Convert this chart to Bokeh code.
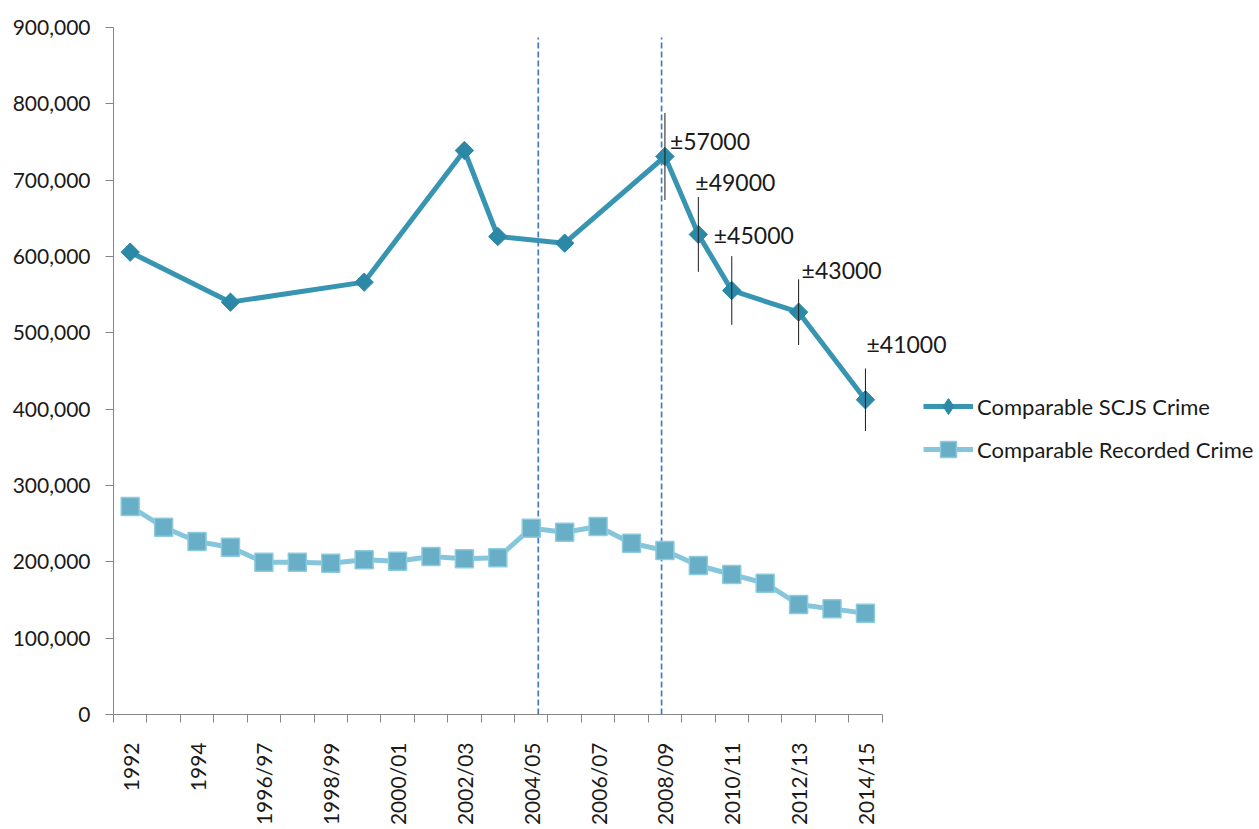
import numpy as np
from bokeh.plotting import figure
from bokeh.models import Range1d, FixedTicker, NumeralTickFormatter, Legend, LegendItem
from bokeh.core.properties import value
from bokeh.embed import file_html
from bokeh.resources import INLINE

# ---------------- data ----------------
periods = ["1992", "1993", "1994", "1995", "1996/97", "1997/98", "1998/99", "1999/00",
           "2000/01", "2001/02", "2002/03", "2003/04", "2004/05", "2005/06", "2006/07",
           "2007/08", "2008/09", "2009/10", "2010/11", "2011/12", "2012/13", "2013/14",
           "2014/15"]

recorded_crime = [272500, 245400, 226600, 219200, 199500, 199500, 198200, 202700,
                  200800, 207000, 204000, 205300, 244100, 238800, 246300, 224400,
                  214900, 195200, 183400, 172000, 144100, 138400, 132700]

scjs_periods = ["1992", "1995", "1999/00", "2002/03", "2003/04", "2005/06",
                "2008/09", "2009/10", "2010/11", "2012/13", "2014/15"]
scjs_crime = [605700, 540200, 566400, 738900, 626200, 617500,
              731000, 628900, 555500, 527100, 412300]

err_periods = ["2008/09", "2009/10", "2010/11", "2012/13", "2014/15"]
err_margin = [57000, 49000, 45000, 43000, 41000]

y_ticks = [0, 100000, 200000, 300000, 400000, 500000, 600000, 700000, 800000, 900000]

# vertical dashed dividers (category + shift within category), top value
divider_periods = ["2004/05", "2008/09"]
divider_shift = [0.21, -0.10]
divider_top = 887000

# ---------------- style / layout ----------------
FONT = "Lato"
AXIS_COL = "#868686"
TEXT_COL = "#1a1a1a"
SCJS_LINE = "#3795B2"
SCJS_MARK = "#2B89A7"
REC_LINE = "#86C6DA"
REC_FILL = "#68AEC7"
REC_EDGE = "#8CCBDE"
DIV_COL = "#4A7CC4"
label_dx = [5, -3, -18, 3, 1]
label_dy = [-16, -52, -55, -42, -56]

CAT_PX = 33.42          # pixel width of one category
FRAME_W = 1140          # frame extends under the legend; axis is bounded
FRAME_H = 687
n = len(periods)

p = figure(frame_width=FRAME_W, frame_height=FRAME_H,
           x_range=Range1d(-0.5, -0.5 + FRAME_W / CAT_PX), y_range=Range1d(0, 900000),
           output_backend="svg", toolbar_location=None,
           min_border_left=113, min_border_right=0, min_border_top=27,
           min_border_bottom=90)
p.outline_line_color = None
p.xgrid.grid_line_color = None
p.ygrid.grid_line_color = None
p.background_fill_color = "white"
p.border_fill_color = "white"

# x axis
xa = p.xaxis[0]
xa.bounds = (-0.5, n - 0.5)
xa.ticker = FixedTicker(ticks=list(range(0, n, 2)),
                        minor_ticks=[i - 0.5 for i in range(n + 1)])
xa.major_label_overrides = {i: periods[i] for i in range(0, n, 2)}
xa.major_tick_line_color = None
xa.major_tick_out = 0
xa.major_tick_in = 0
xa.minor_tick_line_color = AXIS_COL
xa.minor_tick_out = 8
xa.minor_tick_in = 0
xa.major_label_orientation = np.pi / 2
xa.major_label_standoff = 20
xa.major_label_text_font_size = "21px"

# y axis
ya = p.yaxis[0]
ya.ticker = FixedTicker(ticks=y_ticks)
ya.formatter = NumeralTickFormatter(format="0,0")
ya.major_tick_out = 8
ya.major_tick_in = 0
ya.minor_tick_line_color = None
ya.major_label_standoff = 15
ya.major_tick_line_color = AXIS_COL
ya.major_label_text_font_size = "21px"

for ax in (xa, ya):
    ax.axis_line_color = AXIS_COL
    ax.axis_line_width = 1
    ax.major_label_text_font = FONT
    ax.major_label_text_color = TEXT_COL

# dividers
div_x = [periods.index(c) + s for c, s in zip(divider_periods, divider_shift)]
p.segment(x0=div_x, y0=[0] * len(div_x), x1=div_x, y1=[divider_top] * len(div_x),
          line_color=DIV_COL, line_width=1.75, line_dash="6 3")

# recorded crime
rec_x = [periods.index(c) for c in periods]
rec_line = p.line(rec_x, recorded_crime, line_color=REC_LINE, line_width=5)
rec_pts = p.scatter(rec_x, recorded_crime, marker="square", size=18,
                    fill_color=REC_FILL, line_color=REC_EDGE, line_width=1.5)

# SCJS crime
scjs_x = [periods.index(c) for c in scjs_periods]
scjs_line = p.line(scjs_x, scjs_crime, line_color=SCJS_LINE, line_width=5)
scjs_pts = p.scatter(scjs_x, scjs_crime, marker="square", angle=np.pi / 4, size=13,
                     fill_color=SCJS_MARK, line_color=SCJS_MARK, line_width=1)
# hidden diamond proxy used only for the legend key (legend glyphs are drawn unrotated)
scjs_key = p.scatter(scjs_x, scjs_crime, marker="diamond", size=13,
                     fill_color=SCJS_MARK, line_color=SCJS_MARK, line_width=1,
                     visible=False)

# error bars
err_x = [periods.index(c) for c in err_periods]
err_v = [scjs_crime[scjs_periods.index(c)] for c in err_periods]
p.segment(x0=err_x, y0=[v - e for v, e in zip(err_v, err_margin)],
          x1=err_x, y1=[v + e for v, e in zip(err_v, err_margin)],
          line_color="#1a1a1a", line_width=1)
p.text(x=err_x, y=err_v, text=[f"\u00b1{e}" for e in err_margin],
       x_offset=label_dx, y_offset=label_dy,
       text_align="left", text_baseline="middle",
       text_font=value(FONT), text_font_size="23px", text_color=TEXT_COL)

legend = Legend(items=[LegendItem(label="Comparable SCJS Crime", renderers=[scjs_line, scjs_key]),
                       LegendItem(label="Comparable Recorded Crime", renderers=[rec_line, rec_pts])],
                location=(810, 245), orientation="vertical",
                glyph_width=50, glyph_height=40, label_height=40, spacing=3,
                label_standoff=4, padding=0, margin=0,
                border_line_color=None, background_fill_alpha=0,
                label_text_font=FONT, label_text_font_size="22px",
                label_text_color=TEXT_COL)
p.add_layout(legend, "center")

open("out.html", "w").write(file_html(p, INLINE))
